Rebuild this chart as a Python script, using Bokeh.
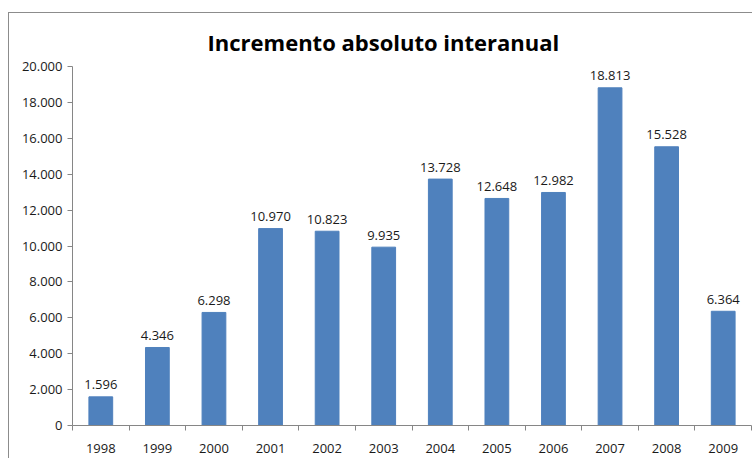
from bokeh.plotting import figure
from bokeh.models import ColumnDataSource, FixedTicker, Range1d
from bokeh.core.properties import value
from bokeh.embed import file_html
from bokeh.resources import INLINE

years = ["1998", "1999", "2000", "2001", "2002", "2003", "2004", "2005", "2006", "2007", "2008", "2009"]
increments = [1596, 4346, 6298, 10970, 10823, 9935, 13728, 12648, 12982, 18813, 15528, 6364]
y_ticks = [0, 2000, 4000, 6000, 8000, 10000, 12000, 14000, 16000, 18000, 20000]

def fmt(v):
    return f"{v:,}".replace(",", ".")

xs = list(range(len(years)))
source = ColumnDataSource(dict(x=xs, y=increments, label=[fmt(v) for v in increments]))

FONT = "Open Sans"

p = figure(width=744, height=446, output_backend="svg", toolbar_location=None,
           x_range=Range1d(-0.5, len(years) - 0.5), y_range=Range1d(0, 20000),
           min_border_left=63, min_border_right=2, min_border_bottom=34, min_border_top=53)

p.styles = {"margin-left": "8px", "margin-top": "12px",
            "border-left": "1px solid #8c8c8c", "border-top": "1px solid #8c8c8c"}

p.title.text = "Incremento absoluto interanual"
p.title.align = "left"
p.title.offset = 135
p.title.text_font = FONT
p.title.text_font_size = "22px"
p.title.text_font_style = "bold"
p.title.text_color = "#000000"
p.title.text_line_height = 1.0
p.title.standoff = 19

p.vbar(x="x", top="y", width=0.42, source=source, color="#4F81BD")
p.text(x="x", y="y", text="label", source=source, text_align="center",
       text_baseline="alphabetic", y_offset=-12, text_font=value(FONT),
       text_font_size="13px", text_color="#1a1a1a")

p.xgrid.visible = False
p.ygrid.visible = False
p.outline_line_color = None

yax = p.yaxis[0]
yax.ticker = FixedTicker(ticks=y_ticks)
yax.major_label_overrides = {t: fmt(t) for t in y_ticks}
yax.major_tick_in = 0
yax.major_tick_out = 5
yax.minor_tick_line_color = None
yax.axis_line_color = "#868686"
yax.major_tick_line_color = "#868686"
yax.major_label_text_font = FONT
yax.major_label_text_font_size = "13px"
yax.major_label_text_color = "#1a1a1a"
yax.major_label_standoff = 5

xax = p.xaxis[0]
xax.ticker = FixedTicker(ticks=xs, minor_ticks=[i - 0.5 for i in range(len(years) + 1)])
xax.major_label_overrides = {i: y for i, y in enumerate(years)}
xax.major_tick_line_color = None
xax.minor_tick_in = 0
xax.minor_tick_out = 5
xax.minor_tick_line_color = "#868686"
xax.axis_line_color = "#868686"
xax.major_label_text_font = FONT
xax.major_label_text_font_size = "13px"
xax.major_label_text_color = "#1a1a1a"
xax.major_label_standoff = 12

open("out.html", "w").write(file_html(p, INLINE))
